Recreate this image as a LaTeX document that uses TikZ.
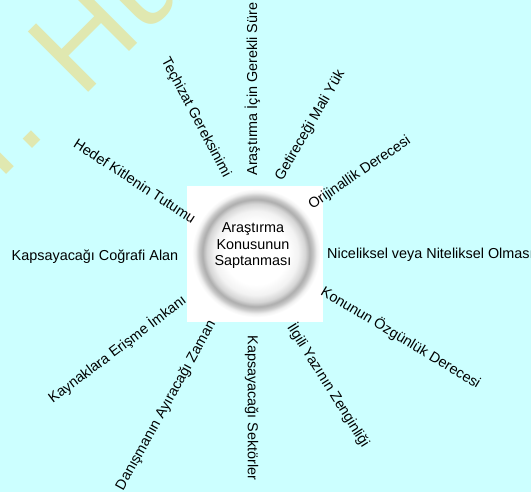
\documentclass[tikz,border=0pt]{standalone}
\usepackage{fontspec}
\setmainfont{Liberation Sans}
\usetikzlibrary{positioning}
\definecolor{bgcyan}{RGB}{204,255,255}
\definecolor{wmark}{RGB}{224,232,176}
\pgfdeclareradialshading{bubble}{\pgfpoint{0bp}{0bp}}{color(0bp)=(white); color(12bp)=(white); color(16bp)=(black!5); color(18.6bp)=(black!16); color(20.3bp)=(black!32); color(21.6bp)=(black!22); color(23bp)=(black!6); color(24.3bp)=(white); color(25bp)=(white); color(50bp)=(white)}

\begin{document}
\begin{tikzpicture}[x=1pt,y=1pt,
  txt/.style={font=\fontsize{14.4}{16.5}\selectfont, inner sep=0pt},
  lbl/.style={txt, text height=10.3pt, text depth=0pt}]
   \clip (0,0) rectangle (531,492);
   \fill[bgcyan] (0,0) rectangle (531,492);
   \node [anchor=base west, rotate=45, inner sep=0pt, text=wmark,
          font=\fontsize{124}{124}\selectfont] (W_m) at (0,311) {r. Hu};
   % centre
   \fill[white] (187,170) rectangle (323,306);
   \shade[shading=bubble] (256,239) circle (66);
   \node [txt, align=center] (C_0) at (253,246) {Araştırma\\Konusunun\\Saptanması};
   % labels round the centre
   \node [lbl, rotate=90]  (L_1)  at (252,403) {Araştırma İçin Gerekli Süre};
   \node [lbl, rotate=60]  (L_2)  at (309,367) {Getireceği Mali Yük};
   \node [lbl, rotate=34]  (L_3)  at (359,320) {Orijinallik Derecesi};
   \node [lbl, anchor=west] (L_4) at (327,239) {Niceliksel veya Niteliksel Olması};
   \node [lbl, rotate=-31] (L_5)  at (401,155) {Konunun Özgünlük Derecesi};
   \node [lbl, rotate=-58] (L_6)  at (329,107) {İlgili Yazının Zenginliği};
   \node [lbl, rotate=-90] (L_7)  at (253,84)  {Kapsayacağı Sektörler};
   \node [lbl, rotate=61]  (L_8)  at (165,87)  {Danışmanın Ayıracağı Zaman};
   \node [lbl, rotate=37]  (L_9)  at (117,143) {Kaynaklara Erişme İmkanı};
   \node [lbl]             (L_10) at (95,237)  {Kapsayacağı Coğrafi Alan};
   \node [lbl, rotate=-33] (L_11) at (135,311) {Hedef Kitlenin Tutumu};
   \node [lbl, rotate=-62] (L_12) at (197,375) {Teçhizat Gereksinimi};
\end{tikzpicture}
\end{document}
